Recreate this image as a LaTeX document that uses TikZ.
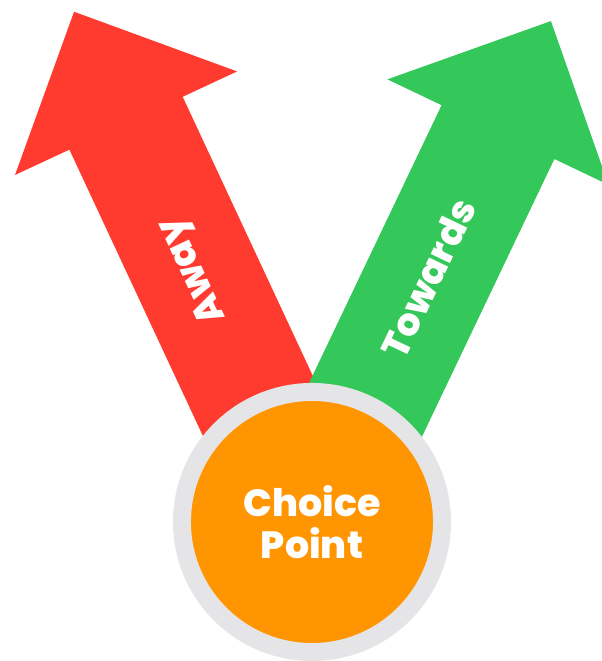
\documentclass[tikz,border=0pt]{standalone}
\usepackage{fontspec}
\setsansfont{Poppins}[BoldFont={Poppins ExtraBold}]
\usepackage{xcolor}

\definecolor{awayred}{HTML}{FF3B30}
\definecolor{towardsgreen}{HTML}{34C759}
\definecolor{pointorange}{HTML}{FF9500}
\definecolor{ringgray}{HTML}{E5E5E7}

\begin{document}
\begin{tikzpicture}[x=0.025cm,y=0.025cm]
  \tikzset{arrowtext/.style = {text=white,inner sep=0pt,font=\sffamily\bfseries\fontsize{27}{30}\selectfont}}
  \tikzset{choicepoint/.style = {shape=circle,fill=pointorange,draw=ringgray,line width=12.8pt,
    minimum size=6.5cm,inner sep=0pt,align=center}}

  \useasboundingbox (-312,-139) rectangle (290,522);

	% away arrow, pointing up-left
	\begin{scope}[rotate=115]
		\fill[awayred] (0,-62.5) -- (440,-62.5) -- (440,-122.5) -- (563,0)
			-- (440,122.5) -- (440,62.5) -- (0,62.5) -- cycle;
		\node[arrowtext,rotate=115] (away) at (278,0) {Away};
	\end{scope}

	% towards arrow, pointing up-right
	\begin{scope}[rotate=64.5]
		\fill[towardsgreen] (0,-62.5) -- (432,-62.5) -- (432,-122.5) -- (555,0)
			-- (432,122.5) -- (432,62.5) -- (0,62.5) -- cycle;
		\node[arrowtext,rotate=64.5] (towards) at (270,0) {Towards};
	\end{scope}

	\node[choicepoint,arrowtext] (choice) at (0,0) {Choice\\Point};

\end{tikzpicture}
\end{document}
